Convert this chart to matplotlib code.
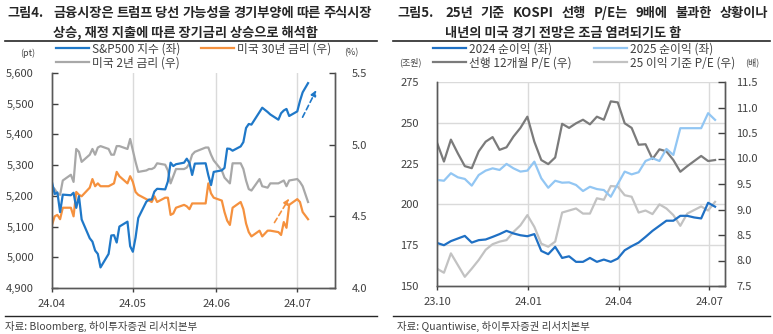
import pandas as pd
import numpy as np
import matplotlib
matplotlib.use('Agg')
import matplotlib.pyplot as plt
import matplotlib.dates as mdates
from matplotlib.ticker import FuncFormatter, MultipleLocator

plt.rcParams['font.family'] = ['Noto Sans CJK KR', 'DejaVu Sans']
plt.rcParams['axes.unicode_minus'] = False

# ---- 그림4 data: daily, 2024.04.01 ~ 2024.07.05 (US market holidays removed)
us_days = pd.bdate_range('2024-04-01', '2024-07-05').drop(
    pd.to_datetime(['2024-05-27', '2024-06-19', '2024-07-04']))

spx = [5244, 5206, 5211, 5147, 5204, 5202, 5210, 5161, 5199, 5123, 5062,
       5051, 5022, 5011, 4967, 5011, 5071, 5072, 5048, 5100, 5116, 5036,
       5018, 5064, 5128, 5181, 5188, 5188, 5214, 5223, 5221, 5247, 5308,
       5297, 5303, 5308, 5321, 5307, 5268, 5305, 5306, 5267, 5235, 5278,
       5283, 5291, 5354, 5353, 5347, 5361, 5375, 5421, 5434, 5432, 5473,
       5487, 5473, 5465, 5448, 5469, 5478, 5483, 5460,
       5475, 5509, 5537, 5567]

ust30 = [4.44, 4.50, 4.51, 4.48, 4.56, 4.56, 4.50, 4.67, 4.65, 4.64, 4.70,
         4.76, 4.71, 4.73, 4.71, 4.71, 4.72, 4.73, 4.81, 4.78, 4.73, 4.78,
         4.74, 4.67, 4.65, 4.62, 4.61, 4.60, 4.64, 4.60, 4.63, 4.63, 4.51,
         4.52, 4.56, 4.58, 4.57, 4.55, 4.59, 4.59, 4.59, 4.73, 4.66, 4.63,
         4.61, 4.53, 4.47, 4.44, 4.56, 4.60, 4.55, 4.45, 4.39, 4.36, 4.40,
         4.36, 4.40, 4.40, 4.39, 4.37, 4.46, 4.42, 4.58,
         4.62, 4.60, 4.53, 4.48]

ust2 = [4.71, 4.69, 4.66, 4.65, 4.75, 4.79, 4.74, 4.97, 4.95, 4.88, 4.93,
        4.97, 4.93, 4.98, 4.99, 4.97, 4.93, 4.93, 4.99, 4.99, 4.97, 5.04,
        4.96, 4.88, 4.81, 4.82, 4.83, 4.83, 4.84, 4.87, 4.86, 4.82, 4.73,
        4.78, 4.83, 4.83, 4.84, 4.87, 4.93, 4.95, 4.98, 4.98, 4.93, 4.89,
        4.82, 4.77, 4.75, 4.73, 4.87, 4.87, 4.83, 4.75, 4.69, 4.68, 4.76,
        4.71, 4.70, 4.73, 4.73, 4.74, 4.75, 4.71, 4.75,
        4.76, 4.74, 4.71, 4.60]

# ---- 그림5 data: weekly, 2023.10 ~ 2024.07
kr_weeks = pd.date_range('2023-10-01', periods=41, freq='7D')

np24 = [176.4, 175.0, 177.5, 179.1, 180.7, 176.6, 178.1, 178.5, 180.1, 181.8,
        183.8, 182.2, 181.1, 180.5, 181.8, 171.5, 169.5, 174.0, 167.2, 168.2,
        164.8, 164.8, 167.2, 164.8, 166.2, 164.8, 166.8, 171.9, 174.4, 176.6,
        180.1, 183.8, 186.9, 190.0, 190.0, 193.0, 193.0, 192.0, 191.4, 201.0,
        198.6]

np25 = [215.0, 214.5, 219.1, 216.6, 215.6, 211.5, 218.0, 220.7, 222.1, 221.1,
        224.8, 222.1, 220.1, 220.7, 226.2, 216.0, 210.2, 214.5, 213.3, 213.5,
        211.9, 208.2, 210.8, 209.4, 208.8, 204.7, 212.5, 220.1, 218.4, 219.7,
        226.6, 228.3, 226.6, 234.0, 230.3, 246.7, 246.7, 246.7, 246.7, 255.9,
        251.8]

pe_fwd = [10.31, 9.94, 10.37, 10.10, 9.85, 9.81, 10.14, 10.33, 10.42, 10.17,
          10.22, 10.43, 10.60, 10.82, 10.33, 9.97, 9.89, 10.02, 10.68, 10.60,
          10.69, 10.76, 10.67, 10.82, 10.76, 11.12, 11.10, 10.69, 10.60, 10.27,
          10.28, 9.99, 10.18, 10.14, 9.97, 9.74, 9.85, 9.95, 10.05, 9.95,
          9.97]

pe_25 = [7.84, 7.76, 8.14, 7.91, 7.68, 7.84, 8.01, 8.21, 8.32, 8.37,
         8.40, 8.56, 8.69, 8.89, 8.66, 8.33, 8.27, 8.37, 8.94, 8.98,
         9.02, 8.92, 8.92, 9.22, 9.19, 9.46, 9.45, 9.28, 9.25, 8.94,
         8.98, 8.91, 9.10, 9.02, 8.89, 8.68, 8.92, 8.99, 9.06, 8.98,
         9.15]

BLUE = '#1f78c8'
ORANGE = '#f5913e'
GRAY = '#a8a8a8'
BLUE2 = '#1f70c4'
LBLUE = '#92c6f3'
DGRAY = '#7b7b7b'
LGRAY = '#c2c2c2'
AXC = '#595959'
TXT = '#404040'
GRID = '#dadada'

W, H = 773, 334
fig = plt.figure(figsize=(W / 100, H / 100), dpi=100)


def fx(px):
    return px / W


def fy(py):
    return 1 - py / H


def style_axes(ax):
    ax.spines['top'].set_visible(False)
    for s in ('left', 'right', 'bottom'):
        ax.spines[s].set_color(AXC)
        ax.spines[s].set_linewidth(1.0)
    ax.tick_params(labelsize=8, colors=TXT, width=1.0)


def justified(words, x0, x1, y, **kw):
    # spread words evenly between two pixel positions
    r = fig.canvas.get_renderer()
    arts = [fig.text(0, fy(y), w, **kw) for w in words]
    widths = [a.get_window_extent(r).width for a in arts]
    gap = (x1 - x0 - sum(widths)) / (len(words) - 1)
    x = x0
    for a, w in zip(arts, widths):
        a.set_x(fx(x))
        x += w + gap


# ================= 그림4 =================
ax1 = fig.add_axes([fx(52), fy(288), fx(335) - fx(52), fy(73) - fy(288)])
ax1r = ax1.twinx()
ax1.set_zorder(ax1r.get_zorder() + 1)
ax1.patch.set_visible(False)

l_spx, = ax1.plot(us_days, spx, color=BLUE, lw=1.6)
l_30, = ax1r.plot(us_days, ust30, color=ORANGE, lw=1.6)
l_2, = ax1r.plot(us_days, ust2, color=GRAY, lw=1.6)

ax1.set_ylim(4900, 5600)
ax1.yaxis.set_major_locator(MultipleLocator(100))
ax1.yaxis.set_major_formatter(FuncFormatter(lambda v, p: f'{v:,.0f}'))
ax1r.set_ylim(4.0, 5.5)
ax1r.yaxis.set_major_locator(MultipleLocator(0.5))
ax1r.yaxis.set_major_formatter(FuncFormatter(lambda v, p: f'{v:.1f}'))

ax1.set_xlim(pd.Timestamp('2024-04-01'), pd.Timestamp('2024-07-15'))
m_ticks = pd.to_datetime(['2024-04-01', '2024-05-01', '2024-06-01', '2024-07-01'])
ax1.set_xticks(m_ticks)
ax1.xaxis.set_major_formatter(mdates.DateFormatter('%y.%m'))
for t in m_ticks[1:]:
    ax1r.axvline(t, color=GRID, lw=1.0, zorder=0)

for a in (ax1, ax1r):
    style_axes(a)
ax1.tick_params(axis='y', direction='in', length=4, pad=13)
ax1r.tick_params(axis='y', direction='in', length=4, pad=12)
ax1.tick_params(axis='x', direction='out', length=3, pad=5)

# 상승 방향 점선 화살표
ax1.annotate('', xy=(pd.Timestamp('2024-07-08 12:00'), 5552),
             xytext=(pd.Timestamp('2024-07-02 12:00'), 5448),
             arrowprops=dict(arrowstyle='-|>', ls=(0, (3, 2)), lw=1.2,
                             color=BLUE, mutation_scale=8))
ax1r.annotate('', xy=(pd.Timestamp('2024-06-28 12:00'), 4.64),
              xytext=(pd.Timestamp('2024-06-22'), 4.44),
              arrowprops=dict(arrowstyle='-|>', ls=(0, (3, 2)), lw=1.2,
                              color=ORANGE, mutation_scale=8))

fig.legend([l_spx, l_2, l_30], ['S&P500 지수 (좌)', '미국 2년 금리 (우)', '미국 30년 금리 (우)'],
           ncol=2, frameon=False, fontsize=8.5, handlelength=2.8,
           handletextpad=0.25, columnspacing=1.7, labelspacing=0.1,
           loc='upper left', bbox_to_anchor=(fx(54), fy(40)), borderaxespad=0,
           borderpad=0.2, labelcolor=TXT)

fig.text(fx(28), fy(53), '(pt)', fontsize=6.5, color=TXT, ha='center', va='center')
fig.text(fx(351), fy(53), '(%)', fontsize=6.5, color=TXT, ha='center', va='center')

# ================= 그림5 =================
ax2 = fig.add_axes([fx(437), fy(286), fx(725) - fx(437), fy(82) - fy(286)])
ax2r = ax2.twinx()
ax2.set_zorder(ax2r.get_zorder() + 1)
ax2.patch.set_visible(False)

l_np24, = ax2.plot(kr_weeks, np24, color=BLUE2, lw=1.6)
l_np25, = ax2.plot(kr_weeks, np25, color=LBLUE, lw=1.6)
l_pef, = ax2r.plot(kr_weeks, pe_fwd, color=DGRAY, lw=1.6)
l_pe25, = ax2r.plot(kr_weeks, pe_25, color=LGRAY, lw=1.6)

ax2.set_ylim(150, 275)
ax2.yaxis.set_major_locator(MultipleLocator(25))
ax2r.set_ylim(7.5, 11.5)
ax2r.yaxis.set_major_locator(MultipleLocator(0.5))
ax2r.yaxis.set_major_formatter(FuncFormatter(lambda v, p: f'{v:.1f}'))

ax2.set_xlim(pd.Timestamp('2023-10-01'), pd.Timestamp('2024-07-17'))
q_ticks = pd.to_datetime(['2023-10-01', '2024-01-01', '2024-04-01', '2024-07-01'])
ax2.set_xticks(q_ticks)
ax2.xaxis.set_major_formatter(mdates.DateFormatter('%y.%m'))
for t in q_ticks[1:]:
    ax2r.axvline(t, color=GRID, lw=1.0, zorder=0)
# 좌축 눈금 위치의 가로 격자선 (우축 좌표로 환산)
for v in np.arange(175, 276, 25):
    ax2r.axhline(7.5 + (v - 150) / 125 * 4.0, color=GRID, lw=1.0, zorder=0)

for a in (ax2, ax2r):
    style_axes(a)
ax2.tick_params(axis='y', length=0, pad=13)
ax2r.tick_params(axis='y', direction='in', length=5, pad=8)
ax2.tick_params(axis='x', direction='out', length=3, pad=5)

fig.legend([l_np24, l_pef, l_np25, l_pe25],
           ['2024 순이익 (좌)', '선행 12개월 P/E (우)', '2025 순이익 (좌)', '25 이익 기준 P/E (우)'],
           ncol=2, frameon=False, fontsize=8.5, handlelength=2.8,
           handletextpad=0.25, columnspacing=1.9, labelspacing=0.1,
           loc='upper left', bbox_to_anchor=(fx(431), fy(40)), borderaxespad=0,
           borderpad=0.2, labelcolor=TXT)

fig.text(fx(410), fy(62), '(조원)', fontsize=6.5, color=TXT, ha='center', va='center')
fig.text(fx(752), fy(62), '(배)', fontsize=6.5, color=TXT, ha='center', va='center')

# ================= titles / rules / sources =================
title_kw = dict(fontsize=9.5, fontweight='bold', color='#262626', va='center')
fig.text(fx(7), fy(13), '그림4.', **title_kw)
justified('금융시장은 트럼프 당선 가능성을 경기부양에 따른 주식시장'.split(), 53, 372, 13, **title_kw)
fig.text(fx(53), fy(33), '상승, 재정 지출에 따른 장기금리 상승으로 해석함', **title_kw)

fig.text(fx(397), fy(13), '그림5.', **title_kw)
justified('25년 기준 KOSPI 선행 P/E는 9배에 불과한 상황이나'.split(), 445, 768, 13, **title_kw)
fig.text(fx(445), fy(33), '내년의 미국 경기 전망은 조금 염려되기도 함', **title_kw)

for x0, x1 in ((5, 377), (393, 770)):
    fig.add_artist(plt.Line2D([fx(x0), fx(x1)], [fy(41), fy(41)], color='#262626', lw=1.2))
    fig.add_artist(plt.Line2D([fx(x0), fx(x1)], [fy(316), fy(316)], color='#262626', lw=1.0))

src_kw = dict(fontsize=7.5, color=TXT, va='center')
fig.text(fx(5), fy(326), '자료: Bloomberg, 하이투자증권 리서치본부', **src_kw)
fig.text(fx(397), fy(326), '자료: Quantiwise, 하이투자증권 리서치본부', **src_kw)

fig.savefig('out.png', dpi=100)
